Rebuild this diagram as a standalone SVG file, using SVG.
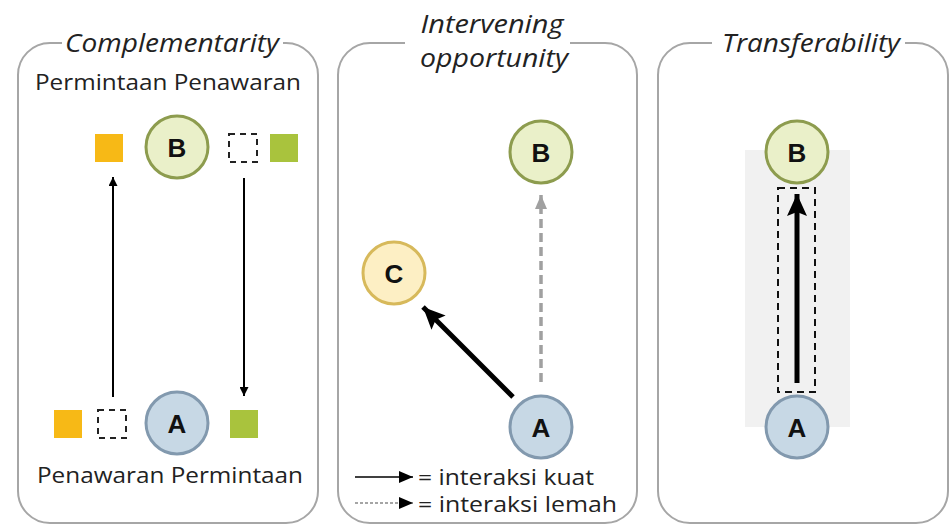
<svg xmlns="http://www.w3.org/2000/svg" width="951" height="528" viewBox="0 0 951 528">
<defs>
<style>
.panel{fill:none;stroke:#a6a6a6;stroke-width:2}
.title{font-family:"Open Sans","Liberation Sans",sans-serif;font-style:italic;font-size:25px;fill:#222}
.lbl{font-family:"Open Sans","Liberation Sans",sans-serif;font-size:22px;fill:#222}
.node{font-family:"Liberation Sans","DejaVu Sans",sans-serif;font-weight:bold;font-size:26px;fill:#111}
.nb{fill:#eaf0c9;stroke:#8d9c4e;stroke-width:3}
.na{fill:#c7d8e5;stroke:#8299ae;stroke-width:3}
.nc{fill:#fdefc4;stroke:#d7b95b;stroke-width:3}
.orange{fill:#f7b916}
.green{fill:#a9c33d}
.dsq{fill:#fff;stroke:#222;stroke-width:2;stroke-dasharray:6,5}
</style>
<marker id="thin" markerUnits="userSpaceOnUse" markerWidth="9" markerHeight="9" refX="9" refY="4.5" orient="auto"><path d="M0,0 L9,4.5 L0,9 z" fill="#000"/></marker>
<marker id="thick" markerUnits="userSpaceOnUse" markerWidth="22" markerHeight="20" refX="22" refY="10" orient="auto"><path d="M0,0 L22,10 L0,20 L4,10 z" fill="#000"/></marker>
<marker id="grey" markerUnits="userSpaceOnUse" markerWidth="14" markerHeight="12" refX="14" refY="6" orient="auto"><path d="M0,0 L14,6 L0,12 z" fill="#a0a0a0"/></marker>
<marker id="leg" markerUnits="userSpaceOnUse" markerWidth="14" markerHeight="12" refX="14" refY="6" orient="auto"><path d="M0,0 L14,6 L0,12 z" fill="#000"/></marker>
</defs>
<rect width="951" height="528" fill="#fff"/>

<g id="panel-complementarity">
<path class="panel" d="M62,43 H50 A32,32 0 0 0 18,75 V491 A32,32 0 0 0 50,523 H286 A32,32 0 0 0 318,491 V75 A32,32 0 0 0 286,43 H283"/>
<text class="title" x="172" y="52" text-anchor="middle" textLength="214" lengthAdjust="spacingAndGlyphs">Complementarity</text>
<text class="lbl" x="168" y="90" text-anchor="middle" textLength="266" lengthAdjust="spacingAndGlyphs">Permintaan Penawaran</text>
<text class="lbl" x="170" y="483" text-anchor="middle" textLength="266" lengthAdjust="spacingAndGlyphs">Penawaran Permintaan</text>
</g>
<g id="sq-orange-top"><rect class="orange" x="95" y="134" width="28" height="28"/></g>
<g id="sq-dashed-top"><rect class="dsq" x="229" y="134" width="28" height="28"/></g>
<g id="sq-green-top"><rect class="green" x="270" y="134" width="28" height="28"/></g>
<g id="sq-orange-bottom"><rect class="orange" x="54" y="410" width="28" height="28"/></g>
<g id="sq-dashed-bottom"><rect class="dsq" x="98" y="410" width="28" height="28"/></g>
<g id="sq-green-bottom"><rect class="green" x="230" y="410" width="28" height="28"/></g>
<g id="node-B1"><circle class="nb" cx="177" cy="147" r="31"/><text class="node" x="177" y="157" text-anchor="middle">B</text></g>
<g id="node-A1"><circle class="na" cx="177" cy="423" r="31"/><text class="node" x="177" y="433" text-anchor="middle">A</text></g>

<g id="panel-intervening">
<path class="panel" d="M405,43 H370 A32,32 0 0 0 338,75 V491 A32,32 0 0 0 370,523 H605 A32,32 0 0 0 637,491 V75 A32,32 0 0 0 605,43 H570"/>
<text class="title" x="492" y="33" text-anchor="middle" textLength="143" lengthAdjust="spacingAndGlyphs">Intervening</text>
<text class="title" x="494" y="67" text-anchor="middle" textLength="148" lengthAdjust="spacingAndGlyphs">opportunity</text>
<text class="lbl" x="418" y="485" textLength="176" lengthAdjust="spacingAndGlyphs">= interaksi kuat</text>
<text class="lbl" x="418" y="512" textLength="199" lengthAdjust="spacingAndGlyphs">= interaksi lemah</text>
</g>
<g id="node-B2"><circle class="nb" cx="541" cy="152" r="31"/><text class="node" x="541" y="162" text-anchor="middle">B</text></g>
<g id="node-C"><circle class="nc" cx="394" cy="273" r="31"/><text class="node" x="394" y="283" text-anchor="middle">C</text></g>
<g id="node-A2"><circle class="na" cx="541" cy="427" r="31"/><text class="node" x="541" y="437" text-anchor="middle">A</text></g>

<g id="panel-transferability">
<rect x="745" y="150" width="105" height="277" fill="#f1f1f1"/>
<path class="panel" d="M712,43 H690 A32,32 0 0 0 658,75 V491 A32,32 0 0 0 690,523 H916 A32,32 0 0 0 948,491 V75 A32,32 0 0 0 916,43 H905"/>
<text class="title" x="811" y="52" text-anchor="middle" textLength="178" lengthAdjust="spacingAndGlyphs">Transferability</text>
<rect x="778" y="188" width="37" height="204" fill="none" stroke="#111" stroke-width="2" stroke-dasharray="7,5"/>
</g>
<g id="node-B3"><circle class="nb" cx="797" cy="152" r="31"/><text class="node" x="797" y="162" text-anchor="middle">B</text></g>
<g id="node-A3"><circle class="na" cx="797" cy="427" r="31"/><text class="node" x="797" y="437" text-anchor="middle">A</text></g>

<g id="connectors">
<line x1="113" y1="397" x2="113" y2="177" stroke="#000" stroke-width="2" marker-end="url(#thin)"/>
<line x1="244" y1="178" x2="244" y2="396" stroke="#000" stroke-width="2" marker-end="url(#thin)"/>
<line x1="541" y1="382" x2="541" y2="195" stroke="#a0a0a0" stroke-width="3.5" stroke-dasharray="9,5" marker-end="url(#grey)"/>
<line x1="513" y1="397" x2="423" y2="307" stroke="#000" stroke-width="5" marker-end="url(#thick)"/>
<line x1="797" y1="383" x2="797" y2="194" stroke="#000" stroke-width="5" marker-end="url(#thick)"/>
<line x1="355" y1="477" x2="413" y2="477" stroke="#000" stroke-width="1.5" marker-end="url(#leg)"/>
<line x1="355" y1="503" x2="413" y2="503" stroke="#888" stroke-width="1.5" stroke-dasharray="3,2" marker-end="url(#leg)"/>
</g>
</svg>
